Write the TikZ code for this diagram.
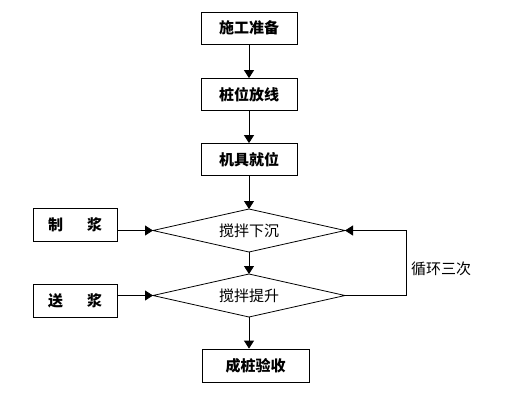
\documentclass[tikz,border=0pt]{standalone}
\usepackage{fontspec}
\setmainfont{Noto Sans CJK SC}
\usetikzlibrary{arrows.meta}
\begin{document}
\begin{tikzpicture}[x=1pt,y=-1pt, line width=0.8pt,
  txt/.style={font=\fontsize{15}{15}\selectfont},
  btxt/.style={font=\fontsize{15}{15}\selectfont\bfseries},
  box/.style={draw, btxt, minimum width=96pt, minimum height=32pt, inner sep=0pt},
  arr/.style={-{Triangle[length=8pt,width=10pt]}}]
\useasboundingbox (0,0) rectangle (516,408);
\node[box] (b1) at (249,28) {施工准备};
\node[box] (b2) at (249,94.5) {桩位放线};
\node[box] (b3) at (249,159.5) {机具就位};
% diamond 1
\coordinate (d1n) at (249,209);
\coordinate (d1e) at (345,230.5);
\coordinate (d1s) at (249,252);
\coordinate (d1w) at (153,230.5);
\draw (d1n) -- (d1e) -- (d1s) -- (d1w) -- cycle;
\node[txt] (d1) at (249,230.5) {搅拌下沉};
% diamond 2
\coordinate (d2n) at (249,274);
\coordinate (d2e) at (345,295.5);
\coordinate (d2s) at (249,317);
\coordinate (d2w) at (153,295.5);
\draw (d2n) -- (d2e) -- (d2s) -- (d2w) -- cycle;
\node[txt] (d2) at (249,295.5) {搅拌提升};
\node[box, minimum width=84pt, minimum height=33pt] (m1) at (75,224.5) {制\hspace{24pt}浆};
\node[box, minimum width=84pt, minimum height=33pt] (m2) at (75,300.5) {送\hspace{24pt}浆};
\node[box, minimum width=107pt, minimum height=33pt] (b4) at (255.5,365.5) {成桩验收};
\node[txt] (loop) at (441,269) {循环三次};
\draw[arr] (b1) -- (b2);
\draw[arr] (b2) -- (b3);
\draw[arr] (b3) -- (d1n);
\draw[arr] (d1s) -- (d2n);
\draw[arr] (d2s) -- (d2s |- b4.north);
\draw[arr] (d1w -| m1.east) -- (d1w);
\draw[arr] (d2w -| m2.east) -- (d2w);
\draw[arr] (d2e) -- ++(61,0) |- (d1e);
\end{tikzpicture}
\end{document}
